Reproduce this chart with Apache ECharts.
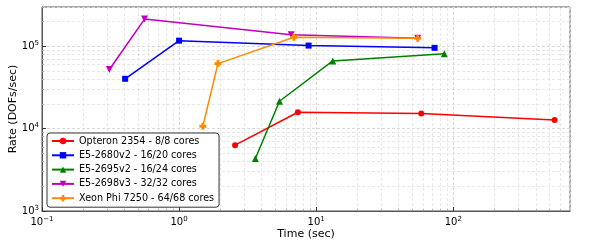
<!DOCTYPE html>
<html>
<head>
<meta charset="utf-8">
<script src="https://cdn.jsdelivr.net/npm/echarts@6/dist/echarts.min.js"></script>
<style>html,body{margin:0;padding:0;background:#fff}#c{width:600px;height:250px}</style>
</head>
<body>
<div id="c"></div>
<script>
// ---- data (Time in sec, Rate in DOFs/sec) ----
const names = [
  'Opteron 2354 - 8/8 cores',
  'E5-2680v2 - 16/20 cores',
  'E5-2695v2 - 16/24 cores',
  'E5-2698v3 - 32/32 cores',
  'Xeon Phi 7250 - 64/68 cores'
];
const opteronTime = [2.56, 7.35, 58.4, 548];
const opteronRate = [6300, 15800, 15300, 12700];
const e52680Time = [0.404, 1.0, 8.8, 73];
const e52680Rate = [40300, 117000, 102000, 95700];
const e52695Time = [3.6, 5.4, 13.2, 86];
const e52695Rate = [4350, 21500, 66500, 81000];
const e52698Time = [0.31, 0.56, 6.57, 55];
const e52698Rate = [52200, 214000, 138000, 125000];
const xeonPhiTime = [1.49, 1.92, 6.87, 55];
const xeonPhiRate = [10700, 61600, 128500, 125000];

const xMinor = [0.2,0.3,0.4,0.5,0.6,0.7,0.8,0.9,2,3,4,5,6,7,8,9,20,30,40,50,60,70,80,90,200,300,400,500,600,700];
const yMinor = [2000,3000,4000,5000,6000,7000,8000,9000,20000,30000,40000,50000,60000,70000,80000,90000,200000,300000];

const times = [opteronTime, e52680Time, e52695Time, e52698Time, xeonPhiTime];
const rates = [opteronRate, e52680Rate, e52695Rate, e52698Rate, xeonPhiRate];
const colors = ['#ff0000', '#0000ff', '#008000', '#bf00bf', '#ff8c00'];
const plusPath = 'path://M3,0 L7,0 L7,3 L10,3 L10,7 L7,7 L7,10 L3,10 L3,7 L0,7 L0,3 L3,3 Z';
const symbols = ['circle', 'rect', 'triangle', 'path://M0,0 L10,0 L5,10 Z', plusPath];
const symSizes = [6, 6, 7, 7, 7];

const FONT = 'DejaVu Sans';
function supFmt(v) {
  const e = Math.round(Math.log10(v));
  return '10{s|' + String(e).replace('-', '\u2212') + '}';
}
const rich = { s: { fontSize: 7, verticalAlign: 'top', padding: [0,0,6,0], fontFamily: FONT, color: '#000' } };
const gridLine = { show: true, lineStyle: { color: '#cfcfcf', type: [3, 2], width: 0.8 } };

const series = names.map((n, i) => ({
  name: n,
  type: 'line',
  xAxisIndex: 0, yAxisIndex: 0,
  data: times[i].map((t, j) => [t, rates[i][j]]),
  symbol: symbols[i],
  symbolSize: symSizes[i],
  showAllSymbol: true,
  lineStyle: { width: 1.5, color: colors[i] },
  itemStyle: { color: colors[i] },
  z: 10 + i
}));

// minor grid lines, placed through the axes' scales
series.push({
  type: 'line', data: [], xAxisIndex: 0, yAxisIndex: 0, silent: true, z: 1,
  markLine: {
    silent: true, symbol: 'none', label: { show: false },
    lineStyle: { color: '#dcdcdc', type: [3, 2], width: 0.7 },
    animation: false, z: 1,
    data: xMinor.map(v => ({ xAxis: v })).concat(yMinor.map(v => ({ yAxis: v })))
  }
});

const chart = echarts.init(document.getElementById('c'), null, { renderer: 'canvas' });
chart.setOption({
  animation: false,
  backgroundColor: '#fff',
  color: colors,
  textStyle: { fontFamily: FONT },
  grid: { left: 42, right: 30, top: 7, bottom: 39, show: true, borderColor: '#555', borderWidth: 1, backgroundColor: 'transparent', containLabel: false, outerBoundsMode: 'none' },
  legend: {
    orient: 'vertical', left: 47, top: 133, z: 50,
    data: names,
    itemWidth: 22, itemHeight: 8, itemGap: 2.3,
    padding: [2, 5, 3, 4],
    backgroundColor: '#fff', borderColor: '#333', borderWidth: 1, borderRadius: 3,
    textStyle: { fontSize: 9.6, fontFamily: FONT, color: '#000', lineHeight: 12 }
  },
  xAxis: [{
    type: 'log', logBase: 10, min: 0.1, max: 710,
    name: 'Time (sec)', nameLocation: 'middle', nameGap: 18, nameMoveOverlap: false,
    nameTextStyle: { fontSize: 11, fontFamily: FONT, color: '#000' },
    axisLine: { show: true, lineStyle: { color: '#555', width: 1 } },
    axisTick: { show: true, inside: true, length: 4, lineStyle: { color: '#333' } },
    axisLabel: { formatter: supFmt, rich: rich, fontSize: 10, fontFamily: FONT, color: '#000', margin: 5, showMaxLabel: false, showMinLabel: true },
    splitLine: gridLine,
    minorTick: { show: false }
  }, {
    type: 'log', logBase: 10, min: 0.1, max: 710, position: 'bottom',
    axisLine: { show: false }, axisLabel: { show: false }, splitLine: { show: false },
    axisTick: { show: true, inside: true, length: 2, customValues: xMinor, lineStyle: { color: '#333' } }
  }],
  yAxis: [{
    type: 'log', logBase: 10, min: 1000, max: 300000,
    name: 'Rate (DOFs/sec)', nameLocation: 'middle', nameGap: 23, nameMoveOverlap: false,
    nameTextStyle: { fontSize: 11, fontFamily: FONT, color: '#000' },
    axisLine: { show: true, lineStyle: { color: '#555', width: 1 } },
    axisTick: { show: true, inside: true, length: 4, lineStyle: { color: '#333' } },
    axisLabel: { formatter: supFmt, rich: rich, fontSize: 10, fontFamily: FONT, color: '#000', margin: 3, showMaxLabel: false },
    splitLine: gridLine
  }, {
    type: 'log', logBase: 10, min: 1000, max: 300000, position: 'left',
    axisLine: { show: false }, axisLabel: { show: false }, splitLine: { show: false },
    axisTick: { show: true, inside: true, length: 2, customValues: yMinor, lineStyle: { color: '#333' } }
  }],
  series: series
});
</script>
</body>
</html>
